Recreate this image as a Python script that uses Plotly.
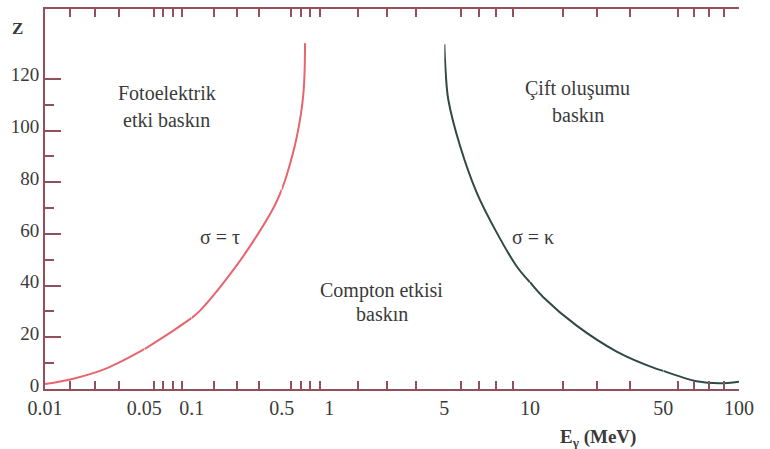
import plotly.graph_objects as go

# Boundary curves in the (E_gamma, Z) plane where two cross sections are equal
photo_E = [0.01, 0.0214, 0.0348, 0.05, 0.0806, 0.1, 0.137, 0.270, 0.374, 0.463, 0.5, 0.553, 0.658, 0.727, 0.745]
photo_Z = [1.9, 4.0, 8.0, 15.4, 22.6, 27.5, 30.3, 44.3, 57.2, 70.0, 77.1, 82.8, 97.5, 114.0, 133.8]
pair_E = [5.0, 5.08, 5.23, 5.92, 6.89, 8.06, 9.22, 10.0, 14.0, 24.0, 36.0, 48.0, 50.0, 72.0, 87.0, 100.0]
pair_Z = [133.3, 122.5, 112.0, 94.0, 76.0, 60.5, 47.5, 41.3, 35.5, 24.5, 14.5, 7.8, 7.0, 3.0, 2.2, 2.8]

# Energy scale: labelled break points, with evenly spaced minor ticks between them
scale_breaks = [0.01, 0.05, 0.1, 0.5, 1, 5, 10, 50, 100]
break_labels = ["0.01", "0.05", "0.1", "0.5", "1", "5", "10", "50", "100"]
minor_ticks = [
    [0.02, 0.03, 0.04],
    [0.06, 0.07, 0.08, 0.09],
    [0.2, 0.3, 0.4],
    [0.6, 0.7, 0.8, 0.9],
    [2, 3, 4],
    [6, 7, 8, 9],
    [20, 30, 40],
    [60, 70, 80, 90],
]
z_ticks = [0, 20, 40, 60, 80, 100, 120]
z_labels = ["0", "20", "40", "60", "80", "100", "120"]
z_minor = [10, 30, 50, 70, 90, 110]

# Width share of each interval along the energy axis
segment_edges = [0.0, 0.1431, 0.2114, 0.3411, 0.4097, 0.5754, 0.6988, 0.8909, 1.0]

AXIS = "#94505a"
TEXT = "#3a3a3a"
FONT = "Liberation Serif"
RED = "#e8646e"
DARK = "#2f4a46"


def piece(E, Z, a, b):
    """Points of a curve lying inside the closed interval [a, b]."""
    pts = [(e, z) for e, z in zip(E, Z) if a <= e <= b]
    if len(pts) < 2:
        return None
    return [p[0] for p in pts], [p[1] for p in pts]


fig = go.Figure()
layout = {}
n_seg = len(scale_breaks) - 1
for k in range(n_seg):
    a, b = scale_breaks[k], scale_breaks[k + 1]
    xname = "x" if k == 0 else f"x{k + 1}"
    key = "xaxis" if k == 0 else f"xaxis{k + 1}"
    tv = [a] + ([b] if k == n_seg - 1 else [])
    tt = [break_labels[k]] + ([break_labels[k + 1]] if k == n_seg - 1 else [])
    layout[key] = dict(
        domain=[segment_edges[k], segment_edges[k + 1]],
        range=[a, b],
        anchor="y",
        tickmode="array",
        tickvals=tv,
        ticktext=tt,
        ticks="inside",
        ticklen=16,
        tickwidth=1.5,
        tickcolor=AXIS,
        showline=True,
        linecolor=AXIS,
        linewidth=2,
        mirror="ticks",
        showgrid=False,
        zeroline=False,
        tickfont=dict(family=FONT, size=20, color=TEXT),
        minor=dict(tickmode="array", tickvals=minor_ticks[k], ticks="inside",
                   ticklen=8, tickwidth=1.5, tickcolor=AXIS, showgrid=False),
    )
    # an empty trace keeps every interval's axis on the page
    fig.add_trace(go.Scatter(x=[a, b], y=[None, None], xaxis=xname, yaxis="y",
                             mode="lines", showlegend=False, hoverinfo="skip"))
    for E, Z, col in ((photo_E, photo_Z, RED), (pair_E, pair_Z, DARK)):
        p = piece(E, Z, a, b)
        if p is None:
            continue
        fig.add_trace(go.Scatter(
            x=p[0], y=p[1], xaxis=xname, yaxis="y", mode="lines",
            line=dict(color=col, width=2, shape="spline", smoothing=1.0),
            showlegend=False, hoverinfo="skip",
        ))

yax = dict(
    range=[0, 147],
    tickmode="array",
    tickvals=z_ticks,
    ticktext=z_labels,
    ticks="inside",
    ticklen=16,
    tickwidth=1.5,
    tickcolor=AXIS,
    showline=True,
    linecolor=AXIS,
    linewidth=2,
    showgrid=False,
    zeroline=False,
    tickfont=dict(family=FONT, size=19, color=TEXT),
    minor=dict(tickmode="array", tickvals=z_minor, ticks="inside",
               ticklen=9, tickwidth=1.5, tickcolor=AXIS, showgrid=False),
)
# labels sit slightly above their tick marks
layout["yaxis"] = dict(yax, anchor="x", domain=[0, 1], ticklabelshift=-4)
layout["yaxis2"] = dict(yax, anchor=f"x{n_seg}", overlaying="y", side="right",
                        matches="y", showticklabels=False)

region_labels = [
    ("Fotoelektrik", 0.1754, 0.778),
    ("etki baskın", 0.1754, 0.709),
    ("Çift oluşumu", 0.767, 0.791),
    ("baskın", 0.768, 0.722),
    ("σ = τ", 0.252, 0.399),
    ("σ = κ", 0.703, 0.399),
    ("Compton etkisi", 0.485, 0.259),
    ("baskın", 0.486, 0.198),
]
annotations = [
    dict(text=t, x=x, y=y, xref="paper", yref="paper", showarrow=False,
         xanchor="center", yanchor="middle",
         font=dict(family=FONT, size=20, color=TEXT))
    for t, x, y in region_labels
]
annotations.append(dict(text="<b>Z</b>", x=-0.040, y=0.950, xref="paper", yref="paper",
                        showarrow=False, xanchor="center", yanchor="middle",
                        font=dict(family=FONT, size=17, color=TEXT)))
annotations.append(dict(text="<b>E<sub>γ</sub> (MeV)</b>", x=0.797, y=-0.128,
                        xref="paper", yref="paper", showarrow=False,
                        xanchor="center", yanchor="middle",
                        font=dict(family=FONT, size=19, color=TEXT)))

fig.update_layout(
    **layout,
    annotations=annotations,
    width=770,
    height=449,
    margin=dict(l=45, r=31, t=7, b=60),
    paper_bgcolor="white",
    plot_bgcolor="white",
    showlegend=False,
)

fig.write_html("out.html")
